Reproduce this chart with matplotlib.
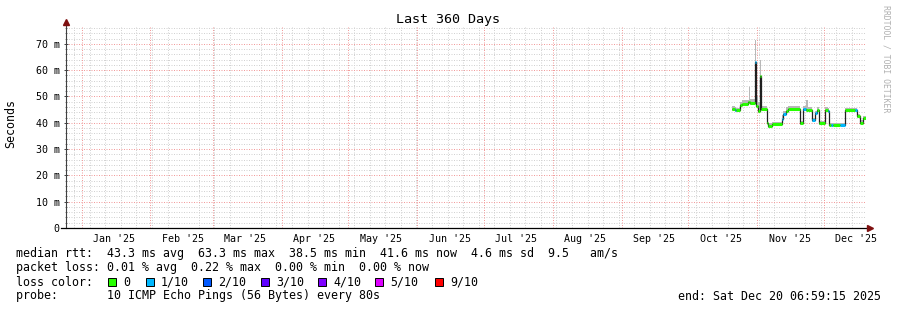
import numpy as np
import pandas as pd
import matplotlib
matplotlib.use('Agg')
import matplotlib.pyplot as plt
import matplotlib.dates as md
from matplotlib.patches import Rectangle

W, H = 897, 310
plt.rcParams['font.family'] = ['DejaVu Sans Mono', 'DejaVu Sans']

# time window (360 days ending at "end")
t_start = pd.Timestamp('2024-12-25 06:59:15')
t_end = pd.Timestamp('2025-12-20 06:59:15')

# median rtt, step segments (start of each step, last end separate)
seg_start = ['2025-10-21 03:00', '2025-10-22 08:00', '2025-10-23 00:00', '2025-10-24 14:00',
             '2025-10-25 10:00', '2025-10-28 05:00', '2025-10-28 18:00', '2025-10-29 06:00',
             '2025-10-31 07:00', '2025-11-01 00:00', '2025-11-01 16:00', '2025-11-02 14:00',
             '2025-11-03 04:00', '2025-11-05 14:00', '2025-11-06 07:00', '2025-11-07 22:00',
             '2025-11-12 10:00', '2025-11-13 02:00', '2025-11-14 07:00', '2025-11-15 07:00',
             '2025-11-20 14:00', '2025-11-21 22:00', '2025-11-23 08:00', '2025-11-24 00:00',
             '2025-11-25 22:00', '2025-11-27 08:00', '2025-11-28 10:00', '2025-11-29 07:00',
             '2025-12-01 19:00', '2025-12-03 05:00', '2025-12-03 19:00', '2025-12-04 12:00',
             '2025-12-05 10:00', '2025-12-08 14:00', '2025-12-10 19:00', '2025-12-15 07:00',
             '2025-12-16 03:00', '2025-12-17 14:00', '2025-12-19 02:00']
seg_last_end = '2025-12-20 03:00'
median_ms = [45.1, 44.7, 44.7, 46.6, 47.3, 47.8, 47.8, 47.4,
             63.3, 46.5, 44.5, 57.9, 45.2, 40.0, 38.8, 39.4,
             41.5, 43.2, 44.3, 45.2, 39.8, 45.2, 45.0, 45.0,
             41.0, 43.6, 45.0, 39.8, 45.0, 44.5, 39.3, 39.3,
             39.3, 39.3, 45.0, 44.7, 42.6, 40.0, 41.8]
loss = [0, 1, 0, 0, 0, 0, 0, 0,
        1, 0, 0, 0, 0, 0, 0, 0,
        1, 1, 0, 0, 0, 1, 0, 0,
        1, 1, 0, 0, 0, 1, 0, 1,
        0, 1, 0, 1, 0, 0, 0]
smoke_hi = [46.5, 46.0, 45.8, 48.0, 48.5, 48.5, 53.7, 49.0,
            71.5, 50.0, 48.0, 64.0, 46.5, 41.0, 39.8, 40.2,
            43.0, 44.5, 46.0, 46.2, 40.5, 46.5, 48.7, 46.0,
            42.0, 44.5, 46.0, 40.5, 46.0, 45.5, 40.0, 40.0,
            40.0, 40.0, 45.8, 45.5, 43.5, 41.0, 42.5]

loss_levels = ['0', '1/10', '2/10', '3/10', '4/10', '5/10', '9/10']
loss_colors = ['#26ff00', '#00b8ff', '#0059ff', '#5e00ff', '#7e00ff', '#dd00ff', '#ff0000']

y_ticks = [0, 10, 20, 30, 40, 50, 60, 70]
y_labels = ['0', '10 m', '20 m', '30 m', '40 m', '50 m', '60 m', '70 m']

stats_line = "median rtt:  43.3 ms avg  63.3 ms max  38.5 ms min  41.6 ms now  4.6 ms sd  9.5   am/s"
loss_line = "packet loss: 0.01 % avg  0.22 % max  0.00 % min  0.00 % now"
probe_line = "probe:       10 ICMP Echo Pings (56 Bytes) every 80s"
end_line = "end: Sat Dec 20 06:59:15 2025"

fig = plt.figure(figsize=(W / 100, H / 100), dpi=100)
fig.patch.set_facecolor('white')
ax = fig.add_axes([66 / W, 1 - 228 / H, 800 / W, 202 / H])

edges = md.date2num(pd.to_datetime(seg_start + [seg_last_end]))
med = np.array(median_ms)

# smoke
ax.stairs(smoke_hi, edges, baseline=med - 0.6, fill=True, color='#b8b8b8', lw=0, zorder=2)
# median line: thin dark line, then colored thick steps by loss
ax.stairs(med, edges, baseline=None, color='#202020', lw=0.9, zorder=3)
ax.hlines(med, edges[:-1], edges[1:], colors=[loss_colors[l] for l in loss], lw=2.2,
          zorder=4, capstyle='butt')

ax.set_xlim(md.date2num(t_start), md.date2num(t_end))
ax.set_ylim(0, 76.8)

# grids
ax.set_yticks(y_ticks)
ax.set_yticklabels(y_labels)
ax.set_yticks(np.arange(0, 77, 2), minor=True)
ax.xaxis.set_major_locator(md.MonthLocator(bymonthday=16))
ax.xaxis.set_major_formatter(md.DateFormatter("%b '%y"))
ax.xaxis.set_minor_locator(md.WeekdayLocator(byweekday=md.SU))

dot = (0, (1, 1.5))
ax.grid(False)
ax.xaxis.grid(True, which='minor', color='#d2d2d2', lw=0.72, ls=dot)
ax.yaxis.grid(True, which='minor', color='#d2d2d2', lw=0.72, ls=dot)
ax.yaxis.grid(True, which='major', color='#f29c9c', lw=0.72, ls=dot)
ax.set_axisbelow(True)
month_starts = pd.date_range(t_start, t_end, freq='MS')
for v in md.date2num(month_starts):
    ax.axvline(v, color='#f29c9c', lw=0.72, ls=dot, zorder=1)

ax.tick_params(axis='x', which='both', length=0, pad=4, labelsize=7.2)
ax.tick_params(axis='y', which='major', length=3, direction='inout', width=0.7, pad=3,
               labelsize=7.2, color='#444444')
ax.tick_params(axis='y', which='minor', length=2, direction='inout', width=0.6, color='#777777')

for s in ax.spines.values():
    s.set_visible(False)
ax.plot([0, 0], [0, 1.02], transform=ax.transAxes, color='#404040', lw=0.8, clip_on=False, zorder=5)
ax.plot([-0.006, 1.005], [0, 0], transform=ax.transAxes, color='#000000', lw=0.9, clip_on=False, zorder=5)
ax.plot([0], [1.02], marker='^', ms=4.5, color='#7f1010', transform=ax.transAxes, clip_on=False, zorder=6)
ax.plot([1.005], [0], marker='>', ms=4.5, color='#7f1010', transform=ax.transAxes, clip_on=False, zorder=6)

# texts
fig.text(448 / W, 1 - 19 / H, 'Last 360 Days', ha='center', va='center', fontsize=9.6)
fig.text(11 / W, 1 - 124 / H, 'Seconds', rotation=90, ha='center', va='center', fontsize=8.4)
fig.text(886 / W, 1 - 5 / H, 'RRDTOOL / TOBI OETIKER', rotation=270, ha='center', va='top',
         fontsize=5.9, color='#b0b0b0')

fs = 8.4
fig.text(16 / W, 1 - 254 / H, stats_line, ha='left', va='center', fontsize=fs)
fig.text(16 / W, 1 - 268 / H, loss_line, ha='left', va='center', fontsize=fs)
fig.text(16 / W, 1 - 282 / H, 'loss color:', ha='left', va='center', fontsize=fs)
fig.text(16 / W, 1 - 296 / H, probe_line, ha='left', va='center', fontsize=fs)
fig.text(881 / W, 1 - 296 / H, end_line, ha='right', va='center', fontsize=fs)

box_x = [108, 146, 203, 261, 318, 375, 435]
for bx, lab, col in zip(box_x, loss_levels, loss_colors):
    fig.add_artist(Rectangle((bx / W, 1 - 286 / H), 8 / W, 8 / H, transform=fig.transFigure,
                             facecolor=col, edgecolor='black', lw=0.7))
    fig.text((bx + 15) / W, 1 - 282 / H, lab, ha='left', va='center', fontsize=fs)

fig.savefig('out.png', dpi=100, facecolor='white')
